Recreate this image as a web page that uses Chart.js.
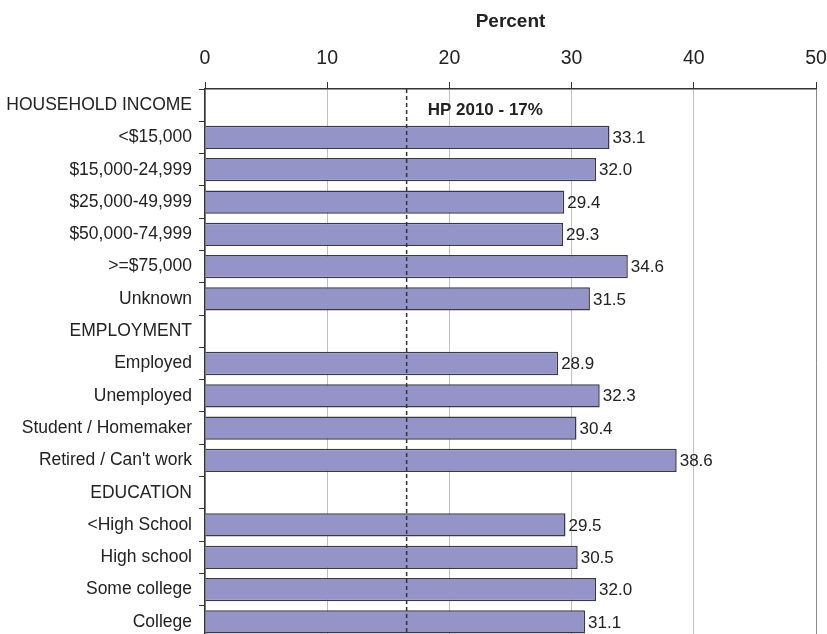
<!DOCTYPE html>
<html>
<head>
<meta charset="utf-8">
<script src="https://cdn.jsdelivr.net/npm/chart.js@4"></script>
<style>
  html, body { margin: 0; padding: 0; background: #fff; overflow: hidden; }
  #wrap { width: 827px; height: 640px; position: relative; }
</style>
</head>
<body>
<div id="wrap"><canvas id="c" width="827" height="640"></canvas></div>
<script>
const categories = [
  'HOUSEHOLD INCOME', '<$15,000', '$15,000-24,999', '$25,000-49,999', '$50,000-74,999', '>=$75,000', 'Unknown',
  'EMPLOYMENT', 'Employed', 'Unemployed', 'Student / Homemaker', "Retired / Can't work",
  'EDUCATION', '<High School', 'High school', 'Some college', 'College'
];
const percentValues = [
  null, 33.1, 32.0, 29.4, 29.3, 34.6, 31.5,
  null, 28.9, 32.3, 30.4, 38.6,
  null, 29.5, 30.5, 32.0, 31.1
];
const xTicks = [0, 10, 20, 30, 40, 50];
const targetValue = 16.5;
const targetLabel = 'HP 2010 - 17%';
const axisTitle = 'Percent';

const FONT = "'Liberation Sans', Arial, sans-serif";

const overlayPlugin = {
  id: 'overlay',
  afterDatasetsDraw(chart) {
    const ctx = chart.ctx;
    const xs = chart.scales.x;
    const area = chart.chartArea;
    const xp = xs.getPixelForValue(targetValue);
    ctx.save();
    ctx.strokeStyle = '#333';
    ctx.lineWidth = 1.5;
    ctx.setLineDash([4, 3]);
    ctx.beginPath();
    ctx.moveTo(xp, area.top);
    ctx.lineTo(xp, area.bottom);
    ctx.stroke();
    ctx.setLineDash([]);
    const ys = chart.scales.y;
    ctx.fillStyle = '#222';
    ctx.font = "bold 17px " + FONT;
    ctx.textAlign = 'left';
    ctx.textBaseline = 'middle';
    ctx.fillText(targetLabel, xp + 21, ys.getPixelForValue(0) + 5);
    ctx.font = "17px " + FONT;
    const meta = chart.getDatasetMeta(0);
    meta.data.forEach((bar, i) => {
      const v = percentValues[i];
      if (v === null) return;
      ctx.fillText(v.toFixed(1), bar.x + 3, bar.y + 1);
    });
    ctx.restore();
  }
};

new Chart(document.getElementById('c'), {
  type: 'bar',
  data: {
    labels: categories,
    datasets: [{
      data: percentValues,
      backgroundColor: '#9494c8',
      borderColor: '#383848',
      borderWidth: 1.5,
      barPercentage: 0.72,
      categoryPercentage: 1
    }]
  },
  options: {
    indexAxis: 'y',
    responsive: false,
    animation: false,
    layout: { padding: { top: 0, right: 11, bottom: 2, left: 0 } },
    plugins: { legend: { display: false }, tooltip: { enabled: false } },
    scales: {
      x: {
        position: 'top',
        min: 0, max: 50,
        afterBuildTicks: s => { s.ticks = xTicks.map(v => ({ value: v })); },
        afterFit: s => { s.height = 89; s.paddingLeft = 0; s.paddingRight = 0; },
        ticks: { color: '#222', font: { family: FONT, size: 19.5 }, padding: 12 },
        grid: {
          color: c => (c.tick && c.tick.value === 50) ? '#888' : '#c0c0c0',
          lineWidth: 1,
          tickColor: '#333',
          tickLength: 7
        },
        border: { color: '#333', width: 1.5 },
        title: {
          display: true, text: axisTitle, color: '#222',
          font: { family: FONT, size: 19, weight: 'bold' },
          padding: { top: 10, bottom: 0 }
        }
      },
      y: {
        afterFit: s => { s.width = 205; s.paddingTop = 0; s.paddingBottom = 0; },
        ticks: { color: '#222', font: { family: FONT, size: 17.5 }, padding: 7, autoSkip: false },
        grid: { drawOnChartArea: false, offset: true, tickColor: '#333', tickLength: 6 },
        border: { color: '#333', width: 1.5 }
      }
    }
  },
  plugins: [overlayPlugin]
});
</script>
</body>
</html>
